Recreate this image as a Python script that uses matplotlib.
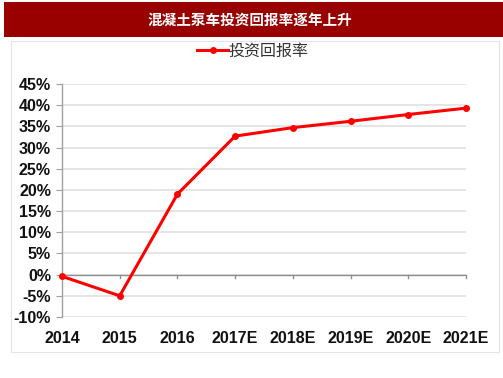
import matplotlib
matplotlib.use("Agg")
import matplotlib.pyplot as plt
from matplotlib.patches import Rectangle
from matplotlib.ticker import FuncFormatter, MultipleLocator

categories = ["2014", "2015", "2016", "2017E", "2018E", "2019E", "2020E", "2021E"]
returns = [-0.4, -5.0, 19.0, 32.7, 34.7, 36.2, 37.8, 39.3]
title = "混凝土泵车投资回报率逐年上升"
series_name = "投资回报率"

W, H = 503, 378
fig = plt.figure(figsize=(W / 100, H / 100), dpi=100)
fig.patch.set_facecolor("white")

# title bar
fig.patches.append(Rectangle((4 / W, 1 - 37 / H), 1, 35 / H, transform=fig.transFigure,
                             facecolor="#990000", edgecolor="none", zorder=-2))
fig.text(250 / W, 1 - 20 / H, title, color="white", fontsize=10.5, fontweight="bold",
         ha="center", va="center", family=["Noto Sans CJK SC", "DejaVu Sans"])
# panel border
fig.patches.append(Rectangle((11 / W, 1 - 352 / H), 488 / W, 311 / H, transform=fig.transFigure,
                             facecolor="white", edgecolor="#e4e4e4", linewidth=0.8, zorder=-2))

ax = fig.add_axes([62 / W, 1 - 317 / H, (466 - 62) / W, (317 - 84) / H])
ax.set_zorder(1)
ax.patch.set_alpha(0)
x = list(range(len(categories)))
line, = ax.plot(x, returns, color="#ff0000", linewidth=2.2, marker="o", markersize=4,
                label=series_name, clip_on=False, zorder=5)

ax.set_xlim(0, len(categories) - 1)
ax.set_ylim(-10, 45)
ax.yaxis.set_major_locator(MultipleLocator(5))
ax.yaxis.set_major_formatter(FuncFormatter(lambda v, p: f"{v:.0f}%"))
ax.set_xticks(x)
ax.set_xticklabels(categories)

ax.grid(axis="y", color="#e0e0e0", linewidth=1.2)
ax.set_axisbelow(True)
for s in ["top", "right", "bottom"]:
    ax.spines[s].set_visible(False)
ax.spines["left"].set_color("#a0a0a0")
ax.spines["left"].set_linewidth(1.0)
ax.axhline(0, color="#909090", linewidth=1.0, zorder=2)
for xi in x[1:]:
    ax.plot([xi, xi], [0, -0.8], color="#909090", linewidth=1.0, zorder=2, clip_on=False)

ax.tick_params(axis="y", length=4, color="#a0a0a0", pad=4)
ax.tick_params(axis="x", length=0, pad=10)
for lab in ax.get_yticklabels() + ax.get_xticklabels():
    lab.set_family(["Liberation Sans", "DejaVu Sans"])
    lab.set_fontweight("bold")
    lab.set_fontsize(11.5)
    lab.set_color("#111111")

leg = fig.legend(handles=[line], loc="center", bbox_to_anchor=(253 / W, 1 - 51 / H),
                 frameon=False, handlelength=1.9, handletextpad=0.05,
                 prop={"family": ["Noto Sans CJK SC", "DejaVu Sans"], "size": 11.5})
for t in leg.get_texts():
    t.set_color("#333333")

fig.savefig("out.png", dpi=100)
